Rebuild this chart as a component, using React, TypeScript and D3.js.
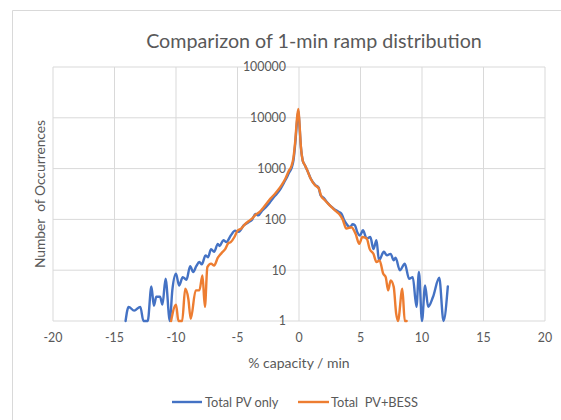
import React from "react";
import * as d3 from "d3";

const titleText = "Comparizon of 1-min ramp distribution";
const xTicks = [-20, -15, -10, -5, 0, 5, 10, 15, 20];
const yTicks = [1, 10, 100, 1000, 10000, 100000];
const seriesNames = ["Total PV only", "Total  PV+BESS"];
const seriesColors = ["#4472C4", "#ED7D31"];

const pvOnly: [number, number][] = [
  [-14.1, 1], [-13.85, 1.9], [-13.4, 1.6], [-12.9, 1.9], [-12.65, 1], [-12.3, 1], [-12.0, 4.8],
  [-11.8, 2.0], [-11.6, 3.0], [-11.3, 3.0], [-11.1, 2.1], [-10.85, 6.8], [-10.5, 1], [-10.3, 4],
  [-10.0, 8.5], [-9.75, 5], [-9.45, 7.3], [-9.15, 6.5], [-8.85, 12], [-8.6, 9.2], [-8.35, 12],
  [-8.1, 14.5], [-7.9, 13], [-7.6, 19.6], [-7.4, 18], [-7.15, 26], [-6.9, 23], [-6.6, 33],
  [-6.45, 30], [-6.15, 39], [-5.9, 36], [-5.55, 48], [-5.2, 60], [-4.9, 57], [-4.5, 76],
  [-4.1, 88], [-3.8, 100], [-3.55, 128], [-3.3, 120], [-3.0, 148], [-2.7, 175], [-2.4, 210],
  [-2.1, 265], [-1.8, 320], [-1.5, 400], [-1.2, 540], [-1.0, 660], [-0.8, 840], [-0.6, 1030],
  [-0.45, 1450], [-0.3, 3200], [-0.15, 9000], [-0.05, 13500], [0.05, 6500], [0.15, 2700],
  [0.3, 1450], [0.45, 1200], [0.65, 950], [0.95, 640], [1.3, 480], [1.6, 420], [1.75, 300],
  [2.0, 265], [2.3, 215], [2.5, 190], [2.8, 165], [3.05, 150], [3.25, 140], [3.45, 130],
  [3.65, 100], [3.85, 82], [4.15, 70], [4.35, 80], [4.55, 76], [4.75, 55], [4.95, 48],
  [5.2, 61], [5.5, 42], [5.8, 45], [6.05, 26], [6.3, 39], [6.5, 15.6], [6.9, 23], [7.15, 19.6],
  [7.45, 21], [7.7, 15.6], [7.85, 17.6], [8.2, 10], [8.6, 13.4], [8.95, 6.8], [9.25, 7.3],
  [9.55, 1.9], [9.75, 9.2], [10.0, 1], [10.25, 5], [10.5, 1.9], [10.9, 3], [11.4, 7.1],
  [11.75, 1], [12.1, 4.8],
];

const pvBess: [number, number][] = [
  [-10.4, 1], [-10.0, 2.1], [-9.8, 1], [-9.5, 1], [-9.25, 4.3], [-9.0, 2.75], [-8.8, 1.1],
  [-8.4, 4], [-8.1, 4], [-7.85, 7.9], [-7.65, 1.9], [-7.45, 11.5], [-7.15, 13.5], [-6.9, 12.4],
  [-6.6, 17.6], [-6.3, 21.7], [-6.0, 26], [-5.75, 34], [-5.55, 35.6], [-5.25, 45], [-5.0, 60],
  [-4.7, 66], [-4.4, 80], [-4.1, 92], [-3.8, 105], [-3.5, 125], [-3.2, 140], [-2.9, 170],
  [-2.6, 210], [-2.3, 260], [-2.0, 310], [-1.7, 380], [-1.4, 480], [-1.1, 640], [-0.85, 880],
  [-0.6, 1150], [-0.45, 1650], [-0.3, 3600], [-0.15, 10500], [-0.05, 15000], [0.05, 7000],
  [0.15, 2800], [0.3, 1450], [0.45, 1200], [0.65, 950], [0.95, 630], [1.3, 470], [1.6, 410],
  [1.8, 290], [2.1, 240], [2.4, 200], [2.7, 170], [3.0, 145], [3.3, 125], [3.55, 100],
  [3.85, 66], [4.25, 70], [4.6, 52], [4.9, 33], [5.15, 45], [5.5, 42], [5.75, 26], [6.05, 21],
  [6.3, 14.5], [6.55, 15.6], [6.85, 8.5], [7.05, 7.3], [7.25, 4], [7.45, 6.3], [7.7, 4.7],
  [7.9, 1.4], [8.05, 1], [8.4, 4.3], [8.6, 1], [8.75, 1],
];

const W = 561;
const H = 420;
const FONT = "Lato, 'Open Sans', sans-serif";
const TEXT = "#595959";
const GRID = "#d9d9d9";

export default function App() {
  const x = d3.scaleLinear().domain([-20, 20]).range([53, 545]);
  const y = d3.scaleLog().domain([1, 100000]).range([321, 67]);
  const line = d3
    .line<[number, number]>()
    .x((d) => x(d[0]))
    .y((d) => y(d[1]))
    .curve(d3.curveMonotoneX);
  const series = [pvOnly, pvBess];

  return (
    <svg
      width={W}
      height={H}
      style={{ position: "absolute", left: 0, top: 0, background: "#fff" }}
    >
      <rect x={0} y={0} width={W} height={H} fill="#fff" />
      {/* chart frame */}
      <line x1={12.5} y1={10.5} x2={W} y2={10.5} stroke={GRID} />
      <line x1={12.5} y1={10.5} x2={12.5} y2={H} stroke={GRID} />

      <text x={314} y={48} textAnchor="middle" fontFamily={FONT} fontSize={19.7} fill={TEXT}>
        {titleText}
      </text>

      {/* grid */}
      {yTicks.map((t) => (
        <line key={"gy" + t} x1={x(-20)} x2={x(20)} y1={y(t)} y2={y(t)} stroke={GRID} strokeWidth={1} />
      ))}
      {xTicks.map((t) => (
        <line key={"gx" + t} x1={x(t)} x2={x(t)} y1={y(1)} y2={y(100000)} stroke={GRID} strokeWidth={1} />
      ))}

      {/* series */}
      {series.map((s, i) => (
        <path
          key={"s" + i}
          d={line(s) || ""}
          fill="none"
          stroke={seriesColors[i]}
          strokeWidth={2.4}
          strokeLinejoin="round"
          strokeLinecap="round"
        />
      ))}

      {/* y labels */}
      {yTicks.map((t) => (
        <text
          key={"yl" + t}
          x={x(0) - 13}
          y={y(t)}
          dy="0.35em"
          textAnchor="end"
          fontFamily={FONT}
          fontSize={12.4}
          fill={TEXT}
        >
          {String(t)}
        </text>
      ))}

      {/* x labels */}
      {xTicks.map((t) => (
        <text
          key={"xl" + t}
          x={x(t)}
          y={342}
          textAnchor="middle"
          fontFamily={FONT}
          fontSize={12.4}
          fill={TEXT}
        >
          {String(t)}
        </text>
      ))}

      <text x={299} y={368} textAnchor="middle" fontFamily={FONT} fontSize={14} fill={TEXT}>
        % capacity / min
      </text>
      <text
        transform={`translate(45,194) rotate(-90)`}
        textAnchor="middle"
        fontFamily={FONT}
        fontSize={13.8}
        fill={TEXT}
        style={{ whiteSpace: "pre" }}
      >
        {"Number  of Occurrences"}
      </text>

      {/* legend */}
      <line x1={172} x2={202} y1={402} y2={402} stroke={seriesColors[0]} strokeWidth={2.4} />
      <text x={205} y={406.5} fontFamily={FONT} fontSize={12.8} fill={TEXT}>
        {seriesNames[0]}
      </text>
      <line x1={298} x2={329} y1={402} y2={402} stroke={seriesColors[1]} strokeWidth={2.4} />
      <text x={331} y={406.5} fontFamily={FONT} fontSize={12.8} fill={TEXT} style={{ whiteSpace: "pre" }}>
        {seriesNames[1]}
      </text>
    </svg>
  );
}
